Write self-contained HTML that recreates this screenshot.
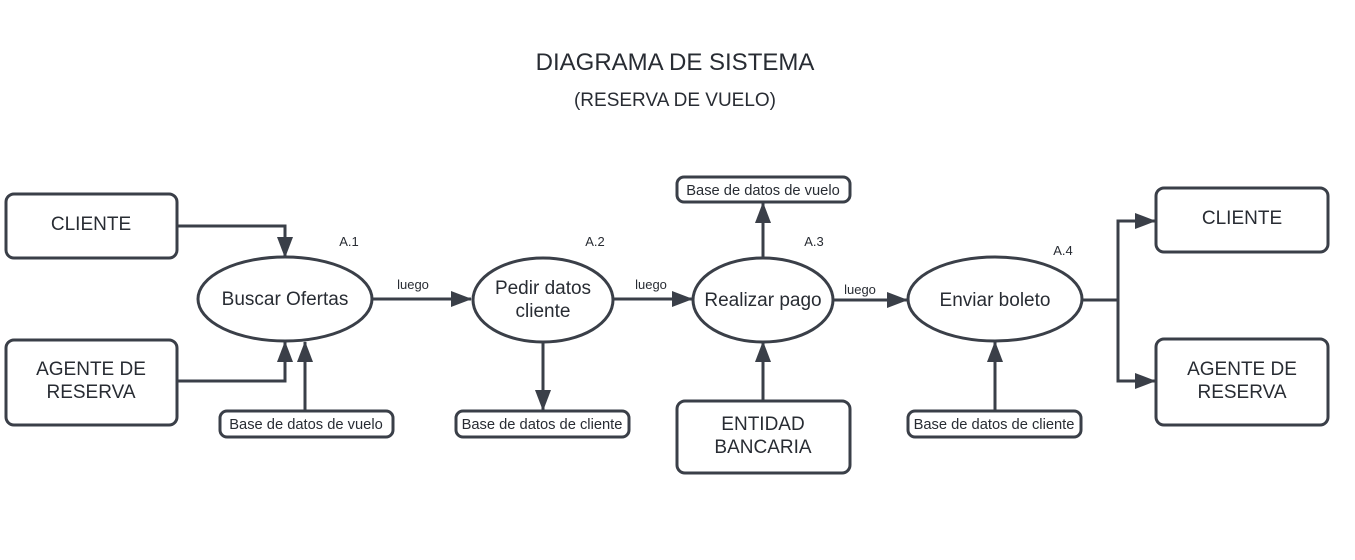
<!DOCTYPE html>
<html><head><meta charset="utf-8"><style>
html,body{margin:0;padding:0;background:#fff;}
svg{display:block;}
text{font-family:"Liberation Sans",sans-serif;fill:#282c33;}
</style></head><body>
<svg width="1355" height="560" viewBox="0 0 1355 560" xmlns="http://www.w3.org/2000/svg">
<defs>
<marker id="a" markerWidth="22" markerHeight="16" refX="20" refY="8" orient="auto" markerUnits="userSpaceOnUse">
<path d="M0,0 L21,8 L0,16 Z" fill="#3a3f48"/></marker>
</defs>
<text x="675" y="70" font-size="24" text-anchor="middle">DIAGRAMA DE SISTEMA</text>
<text x="675" y="106" font-size="19" text-anchor="middle">(RESERVA DE VUELO)</text>

<g fill="none" stroke="#3a3f48" stroke-width="3">
<rect x="6" y="194" width="171" height="64" rx="8"/>
<rect x="6" y="340" width="171" height="85" rx="8"/>
<rect x="220" y="411" width="173" height="26" rx="7"/>
<rect x="456" y="411" width="173" height="26" rx="7"/>
<rect x="677" y="177" width="173" height="25" rx="7"/>
<rect x="677" y="401" width="173" height="72" rx="8"/>
<rect x="908" y="411" width="173" height="26" rx="7"/>
<rect x="1156" y="188" width="172" height="64" rx="8"/>
<rect x="1156" y="339" width="172" height="86" rx="8"/>
<ellipse cx="285" cy="299" rx="87" ry="42"/>
<ellipse cx="543" cy="300" rx="70" ry="42"/>
<ellipse cx="763" cy="300" rx="70" ry="42"/>
<ellipse cx="995" cy="299" rx="87" ry="42"/>

<path d="M177,226 H285 V257" marker-end="url(#a)"/>
<path d="M177,381 H285 V342" marker-end="url(#a)"/>
<path d="M305,411 V342" marker-end="url(#a)"/>
<path d="M372,299 H471" marker-end="url(#a)"/>
<path d="M543,342 V410" marker-end="url(#a)"/>
<path d="M613,299 H692" marker-end="url(#a)"/>
<path d="M763,258 V203" marker-end="url(#a)"/>
<path d="M763,401 V342" marker-end="url(#a)"/>
<path d="M833,300 H907" marker-end="url(#a)"/>
<path d="M995,411 V342" marker-end="url(#a)"/>
<path d="M1082,300 H1118"/>
<path d="M1118,300 V221 H1155" marker-end="url(#a)"/>
<path d="M1118,300 V381 H1155" marker-end="url(#a)"/>
</g>

<g font-size="19" text-anchor="middle">
<text x="91" y="230">CLIENTE</text>
<text x="91" y="375">AGENTE DE</text>
<text x="91" y="398">RESERVA</text>
<text x="285" y="305">Buscar Ofertas</text>
<text x="543" y="294">Pedir datos</text>
<text x="543" y="317">cliente</text>
<text x="763" y="306">Realizar pago</text>
<text x="995" y="306">Enviar boleto</text>
<text x="763" y="430">ENTIDAD</text>
<text x="763" y="453">BANCARIA</text>
<text x="1242" y="224">CLIENTE</text>
<text x="1242" y="375">AGENTE DE</text>
<text x="1242" y="398">RESERVA</text>
</g>
<g font-size="14.7" text-anchor="middle">
<text x="306" y="429">Base de datos de vuelo</text>
<text x="542" y="429">Base de datos de cliente</text>
<text x="763" y="195">Base de datos de vuelo</text>
<text x="994" y="429">Base de datos de cliente</text>
</g>
<g font-size="13" text-anchor="middle">
<text x="349" y="246">A.1</text>
<text x="595" y="246">A.2</text>
<text x="814" y="246">A.3</text>
<text x="1063" y="255">A.4</text>
<text x="413" y="289">luego</text>
<text x="651" y="289">luego</text>
<text x="860" y="294">luego</text>
</g>
</svg>
</body></html>
